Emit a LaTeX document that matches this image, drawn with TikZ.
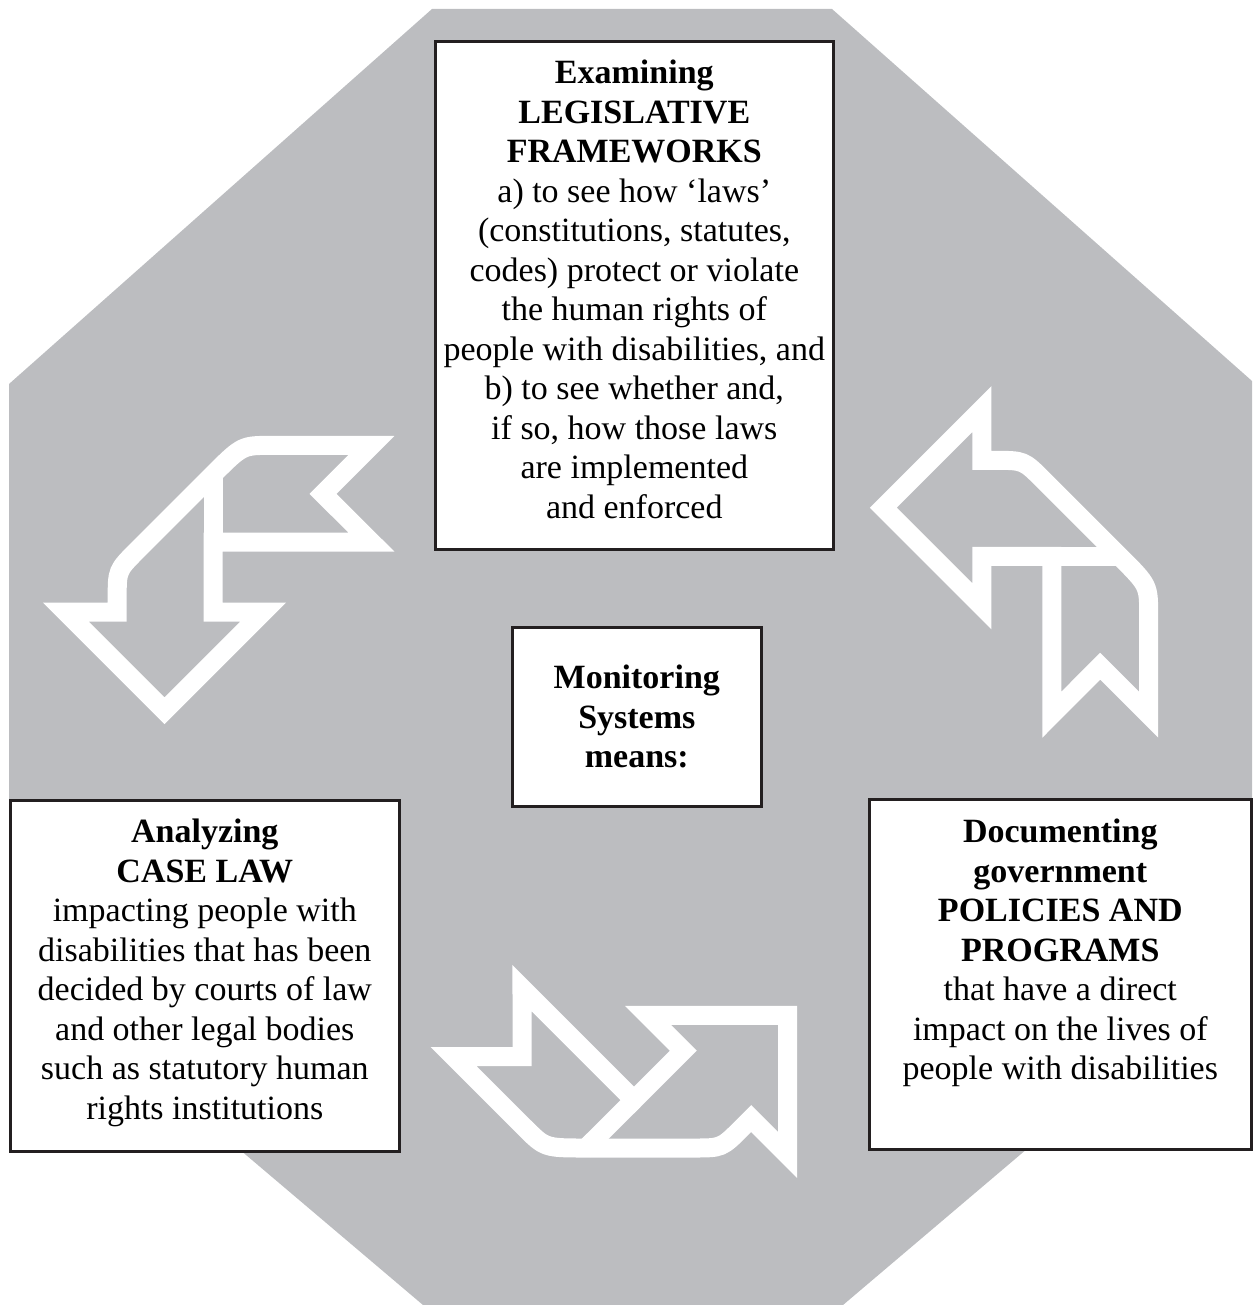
\documentclass[tikz,border=0pt]{standalone}
\usepackage{fontspec}
\setmainfont{Liberation Serif}
\definecolor{octgray}{HTML}{BCBDC0}
\definecolor{boxline}{HTML}{231F20}
\newcommand\ribbonshape{%
  \draw[ribbon] (0,0) -- (98.67,-98.67) -- (98.67,-47.33) -- (112,-47.33)
    .. controls (140.33,-47.33) .. (160,-27.67) -- (236.5,48.83)
    .. controls (265.33,77.67) .. (265.33,107)
    -- (265.33,207) -- (216.83,158.5) -- (168.5,207) -- (168.5,48.67)
    -- (98.67,48.67) -- (98.67,98.67) -- cycle;
  \draw[ribbon] (168.5,48.67) -- (240,48.67);
  \fill[white] (225,48.67) -- (236.5,48.83) .. controls (265.33,77.67) .. (265.33,107)
    -- (255.83,107) -- (255.83,89) .. controls (255.83,58.17) .. (230,58.17)
    -- (225,58.17) -- cycle;
}
\begin{document}
\begin{tikzpicture}[x=1pt,y=-1pt,
  box/.style={draw=boxline, line width=2.6pt, fill=white, inner sep=0pt},
  txt/.style={align=center, inner sep=0pt, font=\fontsize{34}{39.5}\selectfont},
  ribbon/.style={draw=white, line width=19pt, line join=miter, miter limit=10}]
\useasboundingbox (0,0) rectangle (1252,1305);
\fill[octgray] (432,9) -- (832,9) -- (1252,381) -- (1252,958) -- (843,1305)
  -- (423,1305) -- (9,954) -- (9,384) -- cycle;

% curved ribbon arrows
\begin{scope}[shift={(883.3,507.7)}]
  \ribbonshape
\end{scope}
\begin{scope}[shift={(164.5,710.7)}, rotate=90]
  \ribbonshape
\end{scope}
\begin{scope}[shift={(787.5,1015.3)}, rotate=-135]
  \ribbonshape
\end{scope}

% boxes
\node[box, minimum width=398pt, minimum height=508pt, anchor=north west] (legis) at (434,40) {};
\node[txt, anchor=north] (legistext) at ([yshift=-20pt]legis.north)
  {\textbf{Examining}\\ \textbf{LEGISLATIVE}\\ \textbf{FRAMEWORKS}\\
   a) to see how ‘laws’\\ (constitutions, statutes,\\ codes) protect or violate\\
   the human rights of\\ people with disabilities, and\\ b) to see whether and,\\
   if so, how those laws\\ are implemented\\ and enforced};

\node[box, minimum width=249pt, minimum height=179pt, anchor=north west, txt] (monitor) at (511,626)
  {\textbf{Monitoring}\\ \textbf{Systems}\\ \textbf{means:}};

\node[box, minimum width=389pt, minimum height=351pt, anchor=north west] (caselaw) at (9,799) {};
\node[txt, anchor=north] (caselawtext) at ([yshift=-20pt]caselaw.north)
  {\textbf{Analyzing}\\ \textbf{CASE LAW}\\ impacting people with\\ disabilities that has been\\
   decided by courts of law\\ and other legal bodies\\ such as statutory human\\ rights institutions};

\node[box, minimum width=382pt, minimum height=350pt, anchor=north west] (policies) at (868,798) {};
\node[txt, anchor=north] (policiestext) at ([yshift=-21pt]policies.north)
  {\textbf{Documenting}\\ \textbf{government}\\ \textbf{POLICIES AND}\\ \textbf{PROGRAMS}\\
   that have a direct\\ impact on the lives of\\ people with disabilities};
\end{tikzpicture}
\end{document}
